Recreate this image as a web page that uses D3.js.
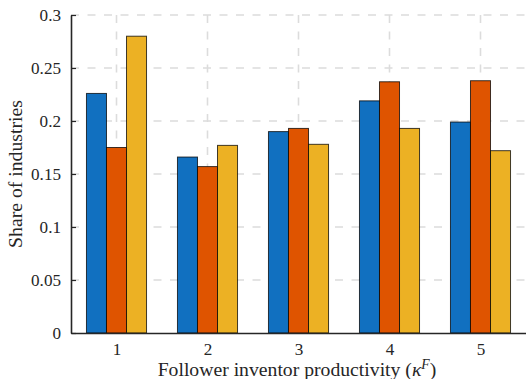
<!DOCTYPE html>
<html><head><meta charset="utf-8">
<script src="https://cdn.jsdelivr.net/npm/d3@7/dist/d3.min.js"></script>
<style>body{margin:0;background:#fff}svg{display:block}</style>
</head><body><svg id="c" width="526" height="379"></svg>
<script>
const categories = ["1","2","3","4","5"];
const series = ["s1","s2","s3"];
const s1 = [0.226, 0.166, 0.190, 0.219, 0.199];
const s2 = [0.175, 0.157, 0.193, 0.237, 0.238];
const s3 = [0.280, 0.177, 0.178, 0.193, 0.172];
const yTicks = [0, 0.05, 0.1, 0.15, 0.2, 0.25, 0.3];
const yTickLabels = ["0","0.05","0.1","0.15","0.2","0.25","0.3"];
const colors = ["#1170c0", "#df5400", "#ecb124"];
const values = [s1, s2, s3];

const FONT = "'Liberation Serif', 'DejaVu Serif', serif";
const svg = d3.select("#c");
const L = 71, R = 526, T = 15, B = 333;
const x = d3.scaleLinear().domain([0.5, 5.5]).range([L, R]);
const y = d3.scaleLinear().domain([0, 0.3]).range([B, T]);
const groupW = 0.66;
const xs = d3.scaleBand().domain(series).range([-groupW/2, groupW/2]);

function fitSize(str, target) {
  const t = svg.append("text").style("font-family", FONT).attr("font-size", 20).text(str);
  const w = t.node().getComputedTextLength();
  t.remove();
  return 20 * target / w;
}
const tickFS = fitSize("0.25", 30);

// grid
const g = svg.append("g");
g.selectAll(".hg").data(yTicks.slice(1)).join("line")
  .attr("x1", L).attr("x2", R).attr("y1", d => y(d)).attr("y2", d => y(d))
  .attr("stroke", "#dcdcdc").attr("stroke-width", 1.6).attr("stroke-dasharray", "8,8.5");
g.selectAll(".vg").data(categories).join("line")
  .attr("x1", (d,i) => x(i+1)).attr("x2", (d,i) => x(i+1)).attr("y1", T).attr("y2", B)
  .attr("stroke", "#dcdcdc").attr("stroke-width", 1.6).attr("stroke-dasharray", "8,8.5");

// bars
values.forEach((vals, si) => {
  svg.append("g").selectAll("rect").data(vals).join("rect")
    .attr("x", (d,i) => x(i+1 + xs(series[si])))
    .attr("width", x(xs.bandwidth()) - x(0))
    .attr("y", d => y(d))
    .attr("height", d => y(0) - y(d))
    .attr("fill", colors[si])
    .attr("stroke", "#000").attr("stroke-opacity", 0.75).attr("stroke-width", 1);
});

// y axis
const ya = svg.append("g").attr("transform", `translate(${L},0)`)
  .call(d3.axisLeft(y).tickValues(yTicks).tickFormat((d,i) => yTickLabels[i]).tickSizeInner(-5).tickSizeOuter(0).tickPadding(10));
ya.select(".domain").attr("stroke", "#262626").attr("stroke-width", 1.6);
ya.selectAll(".tick line").attr("stroke", "#262626").attr("stroke-width", 1.2);
ya.selectAll("text").style("font-family", FONT).attr("font-size", tickFS).attr("fill", "#262626");

// x axis
const xa = svg.append("g").attr("transform", `translate(0,${B})`)
  .call(d3.axisBottom(x).tickValues([1,2,3,4,5]).tickFormat((d,i) => categories[i]).tickSizeInner(0).tickSizeOuter(0).tickPadding(10));
xa.select(".domain").attr("stroke", "#262626").attr("stroke-width", 1.6);
xa.selectAll("text").style("font-family", FONT).attr("font-size", tickFS).attr("fill", "#262626");

// labels
const labFS = fitSize("Follower inventor productivity (κF)", 282);
const xl = svg.append("text").attr("x", 297).attr("y", 376).attr("text-anchor", "middle")
  .style("font-family", FONT).attr("font-size", labFS).attr("fill", "#262626");
xl.append("tspan").text("Follower inventor productivity (");
xl.append("tspan").attr("font-style", "italic").text("κ");
xl.append("tspan").attr("font-style", "italic").attr("font-size", labFS * 0.7).attr("dy", -7).text("F");
xl.append("tspan").attr("dy", 7).text(")");

const ylFS = fitSize("Share of industries", 148);
svg.append("text").attr("transform", `translate(22,174) rotate(-90)`).attr("text-anchor", "middle")
  .style("font-family", FONT).attr("font-size", ylFS).attr("fill", "#262626").text("Share of industries");
</script></body></html>
